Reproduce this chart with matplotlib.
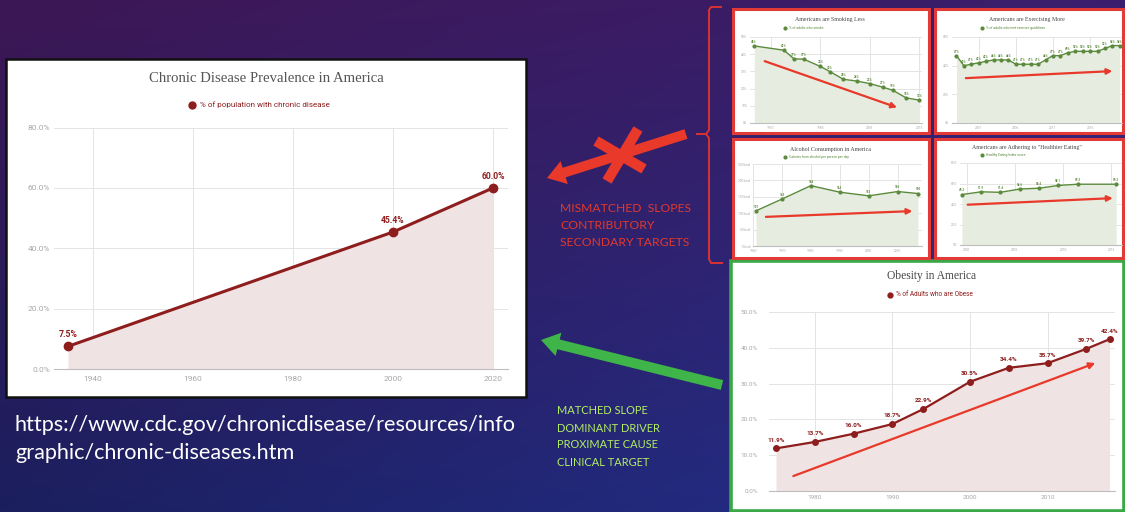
import numpy as np
import matplotlib.pyplot as plt
from matplotlib.patches import Rectangle, FancyArrow

W, H = 1125, 512

# chronic disease prevalence
cd_years = [1935, 2000, 2020]
cd_pct = [7.5, 45.4, 60.0]

# adult obesity
ob_years = [1975, 1980, 1985, 1990, 1994, 2000, 2005, 2010, 2015, 2018]
ob_pct = [11.9, 13.7, 16.0, 18.7, 22.9, 30.5, 34.4, 35.7, 39.7, 42.4]

# adult smoking
smoke_years = [1965, 1974, 1977, 1980, 1985, 1988, 1992, 1996, 2000, 2004, 2007, 2011, 2015]
smoke_pct = [44.8, 42.3, 37.3, 37.1, 32.9, 29.8, 25.4, 24.4, 22.9, 20.8, 19.0, 14.6, 13.3]

# adults meeting exercise guidelines
ex_years = list(range(1998, 2021))
ex_pct = [47, 40, 41, 42, 43, 44, 44, 44, 41, 41, 41, 41, 44, 47, 47, 49, 50, 50, 50, 50, 52, 54, 54]

# calories from alcohol per person per day
alc_years = [1961, 1970, 1980, 1990, 2000, 2010, 2017]
alc_kcal = [107, 143, 184, 164, 153, 166, 160]

# healthy eating index
hei_years = [1999.5, 2001.5, 2003.5, 2005.5, 2007.5, 2009.5, 2011.5, 2015.5]
hei_score = [49.2, 51.9, 51.4, 54.6, 55.4, 58.1, 59.3, 59.3]

RED_DARK = '#8e1d1d'
GREEN_LINE = '#5b8a3c'
ARROW_RED = '#e8392a'
SANS = ['Roboto', 'DejaVu Sans']
SERIF = ['Liberation Serif', 'DejaVu Serif']
SLIDE = ['Lato', 'DejaVu Sans']


def box(x, y, w, h):
    # pixel box (top-left origin) -> figure fraction
    return [x / W, 1 - (y + h) / H, w / W, h / H]


fig = plt.figure(figsize=(W / 100, H / 100), dpi=100)

# slide background
bg = fig.add_axes([0, 0, 1, 1], zorder=0)
bg.set_xlim(0, W)
bg.set_ylim(H, 0)
bg.axis('off')
tl = np.array([0x3d, 0x17, 0x55]) / 255
tr = np.array([0x3a, 0x1f, 0x6e]) / 255
bl = np.array([0x1b, 0x1f, 0x5e]) / 255
br = np.array([0x27, 0x31, 0x92]) / 255
u = np.linspace(0, 1, 200)[None, :, None]
v = np.linspace(0, 1, 100)[:, None, None]
grad = (1 - v) * ((1 - u) * tl + u * tr) + v * ((1 - u) * bl + u * br)
bg.imshow(grad, extent=[0, W, H, 0], aspect='auto', interpolation='bilinear')

# cards
bg.add_patch(Rectangle((6, 59), 520, 338, fc='white', ec='#111111', lw=1.8))
bg.add_patch(Rectangle((731, 261), 393, 250, fc='white', ec='#3aa845', lw=2.6))
for px, py, pw, ph in [(733, 9, 196, 124), (935, 9, 188, 124),
                       (733, 139, 196, 119), (935, 139, 188, 119)]:
    bg.add_patch(Rectangle((px, py), pw, ph, fc='white', ec='#e23a36', lw=2.2))


def style_axes(ax, tick_size, label_color='#a8a8a8'):
    ax.set_facecolor('none')
    for s in ['top', 'right', 'left']:
        ax.spines[s].set_visible(False)
    ax.spines['bottom'].set_color('#bdbdbd')
    ax.spines['bottom'].set_linewidth(0.8)
    ax.grid(True, color='#e4e4e4', lw=0.7)
    ax.set_axisbelow(True)
    ax.tick_params(length=0, labelsize=tick_size, labelcolor=label_color, pad=3)
    for lab in ax.get_xticklabels() + ax.get_yticklabels():
        lab.set_family(SANS)


def line_chart(ax, x, y, color, fill, lw, ms, labels, lab_size, lab_off):
    ax.fill_between(x, y, 0, color=fill, lw=0, zorder=1)
    ax.plot(x, y, color=color, lw=lw, marker='o', ms=ms, zorder=3)
    for xi, yi, t in zip(x, y, labels):
        ax.annotate(t, (xi, yi), xytext=(0, lab_off), textcoords='offset points',
                    ha='center', va='bottom', fontsize=lab_size, color=color,
                    fontweight='bold', family=SANS, annotation_clip=False)


# main chart: chronic disease prevalence
ax = fig.add_axes(box(54, 127.6, 454, 241.4), zorder=2)
line_chart(ax, cd_years, cd_pct, RED_DARK, '#efe3e3', 2.2, 6,
           [f'{v:.1f}%' for v in cd_pct], 6.2, 5)
ax.set_xlim(1932.2, 2023)
ax.set_ylim(0, 80)
ax.set_xticks([1940, 1960, 1980, 2000, 2020])
ax.set_yticks([0, 20, 40, 60, 80])
ax.set_yticklabels([f'{v:.1f}%' for v in [0, 20, 40, 60, 80]])
style_axes(ax, 6.0)
ax.tick_params(axis='x', pad=5)
ax.tick_params(axis='y', pad=3)
bg.text(266, 79, 'Chronic Disease Prevalence in America', ha='center', va='center',
        fontsize=10.6, color='#555555', family=SERIF)
bg.plot(192, 105, 'o', color=RED_DARK, ms=5)
bg.text(200, 105, '% of population with chronic disease', ha='left', va='center',
        fontsize=5.8, color=RED_DARK, family=SANS)

# obesity chart
ax = fig.add_axes(box(769, 312, 346, 179), zorder=2)
line_chart(ax, ob_years, ob_pct, RED_DARK, '#efe3e3', 1.6, 4,
           [f'{v:.1f}%' for v in ob_pct], 4.6, 4)
ax.set_xlim(1974.1, 2018.7)
ax.set_ylim(0, 50)
ax.set_xticks([1980, 1990, 2000, 2010])
ax.set_yticks([0, 10, 20, 30, 40, 50])
ax.set_yticklabels([f'{v:.1f}%' for v in [0, 10, 20, 30, 40, 50]])
style_axes(ax, 4.6)
ax.tick_params(axis='y', pad=8)
ax.annotate('', xy=(2016.5, 36), xytext=(1976.9, 3.9),
            arrowprops=dict(arrowstyle='-|>', color=ARROW_RED, lw=1.6, mutation_scale=9))
bg.text(932, 276, 'Obesity in America', ha='center', va='center',
        fontsize=8.3, color='#444444', family=SERIF)
bg.plot(890, 295, 'o', color=RED_DARK, ms=3.5)
bg.text(896, 295, '% of Adults who are Obese', ha='left', va='center',
        fontsize=4.7, color=RED_DARK, family=SANS)

# four small trend charts
small = [
    dict(pos=(750, 37, 172, 86), x=smoke_years, y=smoke_pct, fmt='{:.0f}%',
         xlim=(1963.7, 2015.8), ylim=(0, 50), xticks=[1970, 1985, 2000, 2015],
         yticks=[0, 10, 20, 30, 40, 50], yfmt='{:.0f}%',
         title='Americans are Smoking Less', legend='% of adults who smoke',
         tpos=(830, 20), arrow=((0.07, 0.73), (0.87, 0.17))),
    dict(pos=(952, 37, 170, 86), x=ex_years, y=ex_pct, fmt='{:.0f}%',
         xlim=(1997.4, 2020.3), ylim=(0, 60), xticks=[2001, 2006, 2011, 2016],
         yticks=[0, 20, 40, 60], yfmt='{:.0f}%',
         title='Americans are Exercising More',
         legend='% of adults who met exercise guidelines',
         tpos=(1027, 20), arrow=((0.065, 0.52), (0.96, 0.605))),
    dict(pos=(753, 164, 169, 82), x=alc_years, y=alc_kcal, fmt='{:.0f}',
         xlim=(1960, 2018.4), ylim=(0, 250), xticks=[1960, 1970, 1980, 1990, 2000, 2010],
         yticks=[0, 50, 100, 150, 200, 250], yfmt='{:.0f} kcal',
         title='Alcohol Consumption in America',
         legend='Calories from alcohol per person per day',
         tpos=(830, 149), arrow=((0.06, 0.354), (0.96, 0.427))),
    dict(pos=(960, 163, 162, 82), x=hei_years, y=hei_score, fmt='{:.1f}',
         xlim=(1999.3, 2016.1), ylim=(0, 80), xticks=[2000, 2005, 2010, 2015],
         yticks=[0, 20, 40, 60, 80], yfmt='{:.1f}',
         title='Americans are Adhering to "Healthier Eating"',
         legend='Healthy Eating Index score',
         tpos=(1027, 147), arrow=((0.03, 0.49), (0.96, 0.573))),
]
for c in small:
    ax = fig.add_axes(box(*c['pos']), zorder=2)
    line_chart(ax, c['x'], c['y'], GREEN_LINE, '#e6ede0', 1.0, 2,
               [c['fmt'].format(v) for v in c['y']], 2.2, 1.5)
    ax.set_xlim(*c['xlim'])
    ax.set_ylim(*c['ylim'])
    ax.set_xticks(c['xticks'])
    ax.set_yticks(c['yticks'])
    ax.set_yticklabels([c['yfmt'].format(v) for v in c['yticks']])
    style_axes(ax, 2.3)
    ax.tick_params(pad=2)
    (x0, y0), (x1, y1) = c['arrow']
    ax.annotate('', xy=(x1, y1), xytext=(x0, y0), xycoords='axes fraction',
                arrowprops=dict(arrowstyle='-|>', color=ARROW_RED, lw=1.6, mutation_scale=8))
    tx, ty = c['tpos']
    bg.text(tx, ty, c['title'], ha='center', va='center', fontsize=4.2,
            color='#444444', family=SERIF)
    bg.plot(tx - 45, ty + 8, 'o', color=GREEN_LINE, ms=2)
    bg.text(tx - 41, ty + 8, c['legend'], ha='left', va='center', fontsize=2.4,
            color=GREEN_LINE, family=SANS)

# slide overlay: arrows, bracket and captions
ov = fig.add_axes([0, 0, 1, 1], zorder=5)
ov.set_xlim(0, W)
ov.set_ylim(H, 0)
ov.axis('off')

ov.add_patch(FancyArrow(686, 134, -139, 44, width=10, head_width=24, head_length=18,
                        length_includes_head=True, color='#e8392a', lw=0))
ov.plot([596, 644], [141, 169], color='#e8392a', lw=7.5, solid_capstyle='butt')
ov.plot([638, 607], [129, 181], color='#e8392a', lw=7.5, solid_capstyle='butt')
ov.add_patch(FancyArrow(722, 385, -181, -45, width=10, head_width=24, head_length=18,
                        length_includes_head=True, color='#3fb449', lw=0))

# curly bracket around the four small charts
ov.plot([721, 711, 709, 709, 706, 697], [7, 7, 10, 130, 134, 134], color='#d83333', lw=1.4)
ov.plot([697, 706, 709, 709, 711, 722], [134, 134, 138, 259, 263, 263], color='#d83333', lw=1.4)

for i, t in enumerate(['MISMATCHED  SLOPES', 'CONTRIBUTORY', 'SECONDARY TARGETS']):
    ov.text(560, 208 + i * 17.5, t, ha='left', va='center', fontsize=8.7,
            color='#e0392c', family=SLIDE)
for i, t in enumerate(['MATCHED SLOPE', 'DOMINANT DRIVER', 'PROXIMATE CAUSE', 'CLINICAL TARGET']):
    ov.text(557, 411 + i * 17, t, ha='left', va='center', fontsize=7.9,
            color='#b2ee62', family=SLIDE)

ov.text(15, 425, 'https://www.cdc.gov/chronicdisease/resources/info', ha='left', va='center',
        fontsize=15.6, color='white', family=SLIDE)
ov.text(15, 453, 'graphic/chronic-diseases.htm', ha='left', va='center',
        fontsize=15.6, color='white', family=SLIDE)

fig.savefig('out.png', dpi=100)
